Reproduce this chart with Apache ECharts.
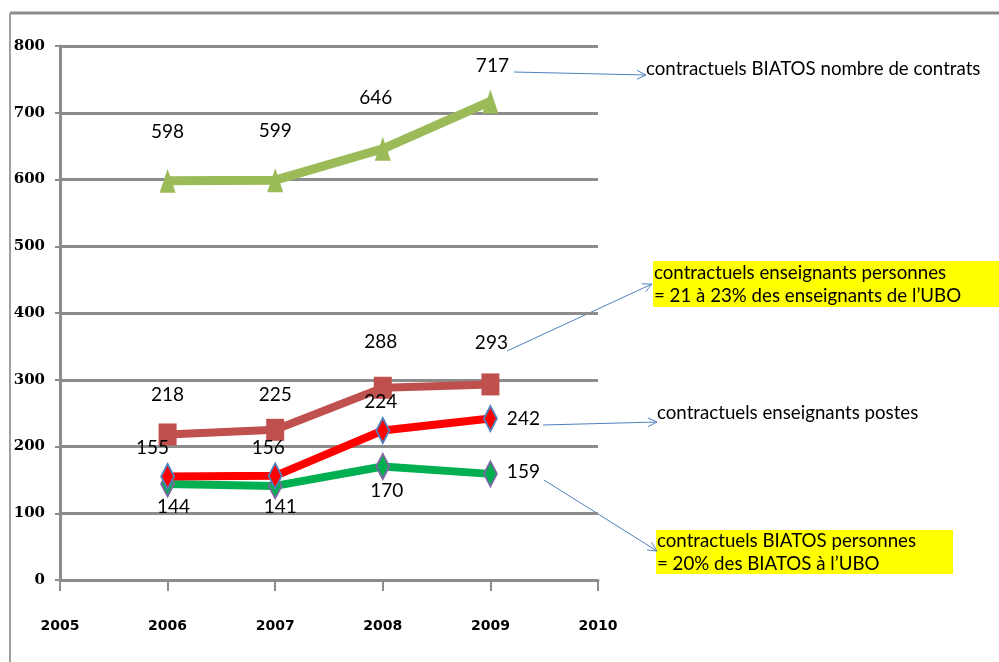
<!DOCTYPE html>
<html>
<head>
<meta charset="utf-8">
<script src="https://cdn.jsdelivr.net/npm/echarts@6/dist/echarts.min.js"></script>
<style>
  html, body { margin: 0; padding: 0; background: #fff; }
  #chart { width: 999px; height: 662px; }
</style>
</head>
<body>
<div id="chart"></div>
<script>
// years on the x axis
const years = [2006, 2007, 2008, 2009]
const xTicks = [2005, 2006, 2007, 2008, 2009, 2010]

// series values
const biatosContrats = [598, 599, 646, 717]
const enseignantsPersonnes = [218, 225, 288, 293]
const enseignantsPostes = [155, 156, 224, 242]
const biatosPersonnes = [144, 141, 170, 159]

// label offsets (text centre relative to the point), as placed in the original
const offContrats = [[0, -49], [0, -49], [-7, -51], [2, -36]]
const offPersonnes = [[0, -40], [0, -35], [-2, -46], [1, -42]]
const offPostes = [[-15, -29], [-7, -28], [-2, -29], [33, 0]]
const offBiatos = [[6, 23], [5, 21], [4, 24], [33, -2]]

const GRID = '#8c8c8c'
const ARROW = '#4f81bd'
const labelFont = { fontFamily: 'Lato', fontSize: 19, color: '#000' }

function pts(values, offsets) {
  return values.map((v, i) => ({
    value: [years[i], v],
    label: { offset: offsets[i] },
  }))
}

function arrow(x1, y1, x2, y2) {
  const a = Math.atan2(y2 - y1, x2 - x1)
  const h = 10, w = 0.45
  return [
    { type: 'line', shape: { x1, y1, x2, y2 }, style: { stroke: ARROW, lineWidth: 1 } },
    {
      type: 'polyline',
      shape: { points: [
        [x2 - h * Math.cos(a - w), y2 - h * Math.sin(a - w)],
        [x2, y2],
        [x2 - h * Math.cos(a + w), y2 - h * Math.sin(a + w)],
      ] },
      style: { stroke: ARROW, lineWidth: 1, fill: null },
    },
  ]
}

function note(x, y, lines, box) {
  const els = []
  if (box) {
    els.push({ type: 'rect', shape: { x: box[0], y: box[1], width: box[2], height: box[3] }, style: { fill: '#ffff00' } })
  }
  lines.forEach((t, i) => {
    els.push({
      type: 'text', x, y: y + i * 23,
      style: { text: t, fontFamily: 'Lato', fontSize: 18.7, fill: '#000', textVerticalAlign: 'middle' },
    })
  })
  return els
}

const baseSeries = {
  type: 'line',
  label: { show: true, position: 'inside', align: 'center', verticalAlign: 'middle', ...labelFont },
  emphasis: { disabled: true },
  z: 3,
}

const chart = echarts.init(document.getElementById('chart'), null, { renderer: 'canvas' })
chart.setOption({
  animation: false,
  backgroundColor: '#fff',
  grid: { left: 60, right: 401, top: 46, bottom: 82 },
  xAxis: {
    type: 'value',
    min: 2005, max: 2010, interval: 1,
    axisLine: { show: true, lineStyle: { color: GRID, width: 3 } },
    axisTick: { show: true, length: 11, lineStyle: { color: GRID, width: 2 } },
    axisLabel: {
      margin: 39, color: '#000', fontFamily: 'DejaVu Sans', fontSize: 14, fontWeight: 'bold',
      formatter: (v) => (xTicks.includes(v) ? String(v) : ''),
    },
    splitLine: { show: false },
  },
  yAxis: {
    type: 'value',
    min: 0, max: 800, interval: 100,
    axisLine: { show: true, lineStyle: { color: GRID, width: 3 } },
    axisTick: { show: true, length: 5, lineStyle: { color: GRID, width: 2 } },
    axisLabel: {
      margin: 15, color: '#000', fontFamily: 'DejaVu Serif', fontSize: 15, fontWeight: 'bold',
      lineHeight: 15, padding: [0, 0, 8, 0],
    },
    splitLine: { lineStyle: { color: GRID, width: 3 } },
  },
  series: [
    {
      ...baseSeries,
      name: 'contractuels BIATOS nombre de contrats',
      data: pts(biatosContrats, offContrats),
      symbol: 'triangle', symbolSize: [16, 24],
      lineStyle: { color: '#9bbb59', width: 9 },
      itemStyle: { color: '#9bbb59' },
    },
    {
      ...baseSeries,
      name: 'contractuels enseignants personnes',
      data: pts(enseignantsPersonnes, offPersonnes),
      symbol: 'rect', symbolSize: [18, 22],
      lineStyle: { color: '#c0504d', width: 8 },
      itemStyle: { color: '#c0504d' },
    },
    {
      ...baseSeries,
      name: 'contractuels BIATOS personnes',
      data: pts(biatosPersonnes, offBiatos),
      symbol: 'diamond', symbolSize: [13, 25],
      lineStyle: { color: '#00b050', width: 8 },
      itemStyle: { color: '#00b050', borderColor: '#8064a2', borderWidth: 2 },
    },
    {
      ...baseSeries,
      name: 'contractuels enseignants postes',
      data: pts(enseignantsPostes, offPostes),
      symbol: 'diamond', symbolSize: [13, 25],
      lineStyle: { color: '#ff0000', width: 8 },
      itemStyle: { color: '#ff0000', borderColor: '#4f81bd', borderWidth: 2 },
    },
  ],
  graphic: [
    // frame of the original slide
    { type: 'line', shape: { x1: 10, y1: 13, x2: 999, y2: 13 }, style: { stroke: GRID, lineWidth: 3 } },
    { type: 'line', shape: { x1: 10, y1: 13, x2: 10, y2: 662 }, style: { stroke: '#a0a0a0', lineWidth: 2 } },
    ...note(646, 69, ['contractuels BIATOS nombre de contrats']),
    ...note(654, 273, ['contractuels enseignants personnes', '= 21 à 23% des enseignants de l\u2019UBO'], [653, 261, 346, 46]),
    ...note(657, 413, ['contractuels enseignants postes']),
    ...note(657, 541, ['contractuels BIATOS personnes', '= 20% des BIATOS à l\u2019UBO'], [656, 530, 297, 44]),
    ...arrow(514, 72, 646, 75),
    ...arrow(507, 351, 652, 284),
    ...arrow(543, 425, 657, 422),
    ...arrow(544, 480, 657, 551),
  ],
})
</script>
</body>
</html>
